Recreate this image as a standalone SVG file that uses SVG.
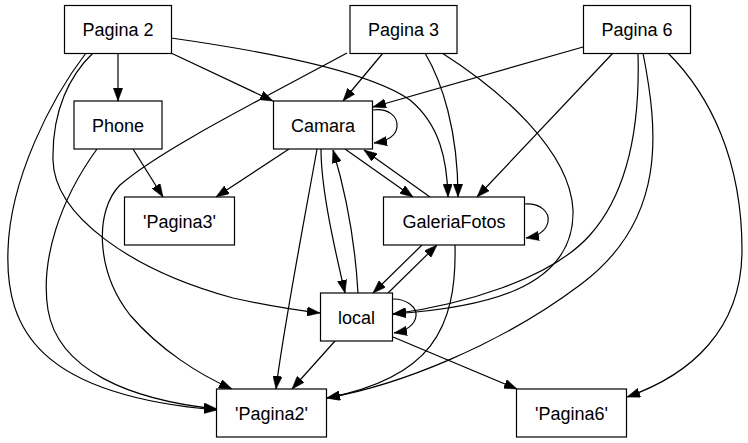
<svg xmlns="http://www.w3.org/2000/svg" width="748" height="443" viewBox="0 0 748 443">
<style>
.n rect{fill:#fff;stroke:#000;stroke-width:1.2}
.n text{font-family:"Liberation Sans",Arial,sans-serif;font-size:18px;text-anchor:middle;fill:#000}
.e path{fill:none;stroke:#000;stroke-width:1.2;marker-end:url(#ah)}
</style>
<defs>
<marker id="ah" viewBox="0 0 13 9.4" refX="13" refY="4.7" markerWidth="13" markerHeight="9.4" markerUnits="userSpaceOnUse" orient="auto">
<polygon points="0,0 13,4.7 0,9.4" fill="#000" stroke="#000" stroke-width="0.5"/>
</marker>
</defs>
<rect width="748" height="443" fill="#fff"/>
<g id="edges" class="e">
<path d="M118,53.5 L118,101"/>
<path d="M171,53 L273,101"/>
<path d="M171,38 C270,52 370,72 410,100 C440,125 447,160 448,197"/>
<path d="M93,53 C70,75 52,110 53,160 C54,215 130,270 233,298 C265,305 295,310 320,313"/>
<path d="M86,53 C50,100 10,180 8,250 C5,330 40,395 217,410"/>
<path d="M347,53 C260,100 160,150 120,185 C95,210 95,270 130,315 C160,350 200,375 232,389"/>
<path d="M383,53 L343,101"/>
<path d="M425,53 C442,82 458,130 458,197"/>
<path d="M442,53 C500,90 570,150 573,210 C575,290 480,308 393,314"/>
<path d="M583,47 L373,107"/>
<path d="M613,53 L477,197"/>
<path d="M638,53 C640,120 630,190 590,235 C550,280 460,305 393,314"/>
<path d="M643,53 C658,130 668,220 580,285 C500,345 400,385 327,398"/>
<path d="M668,53 C710,95 742,160 742,250 C742,330 690,375 627,397"/>
<path d="M97,149 C60,200 40,260 48,310 C58,370 130,400 217,409"/>
<path d="M133,149 L163,197"/>
<path d="M373,110 C388,108 398,116 397,127 C396,136 387,141 374,143"/>
<path d="M289,149 L216,197"/>
<path d="M345,149 L413,197"/>
<path d="M321,149 C321,190 335,250 345,293"/>
<path d="M317,149 C308,200 283,330 276,389"/>
<path d="M430,197 L364,150"/>
<path d="M525,204 C540,203 550,212 548,222 C546,231 538,236 526,238"/>
<path d="M422,245 L373,293"/>
<path d="M455,245 C457,330 430,378 327,398"/>
<path d="M358,293 C355,240 345,190 333,150"/>
<path d="M388,293 L437,245"/>
<path d="M393,299 C408,299 417,308 416,316 C415,325 406,331 394,333"/>
<path d="M335,341 L292,389"/>
<path d="M393,337 L517,389"/>
</g>
<g id="pagina2" class="n"><rect x="64.5" y="5.5" width="107" height="48"/><text x="118" y="36">Pagina 2</text></g>
<g id="pagina3" class="n"><rect x="350" y="5.5" width="107" height="48"/><text x="403.5" y="36">Pagina 3</text></g>
<g id="pagina6" class="n"><rect x="583.5" y="5.5" width="107" height="48"/><text x="637" y="36">Pagina 6</text></g>
<g id="phone" class="n"><rect x="74" y="101" width="88" height="48"/><text x="118" y="131.5">Phone</text></g>
<g id="camara" class="n"><rect x="273.5" y="101" width="99" height="48"/><text x="323" y="131.5">Camara</text></g>
<g id="qpagina3" class="n"><rect x="124.5" y="197" width="110" height="48"/><text x="179.5" y="227.5">'Pagina3'</text></g>
<g id="galeriafotos" class="n"><rect x="383.5" y="197" width="141" height="48"/><text x="454" y="227.5">GaleriaFotos</text></g>
<g id="local" class="n"><rect x="320.5" y="293" width="72" height="48"/><text x="356.5" y="323.5">local</text></g>
<g id="qpagina2" class="n"><rect x="216.5" y="389" width="110" height="48"/><text x="271.5" y="419.5">'Pagina2'</text></g>
<g id="qpagina6" class="n"><rect x="516.5" y="389" width="110" height="48"/><text x="571.5" y="419.5">'Pagina6'</text></g>
</svg>
